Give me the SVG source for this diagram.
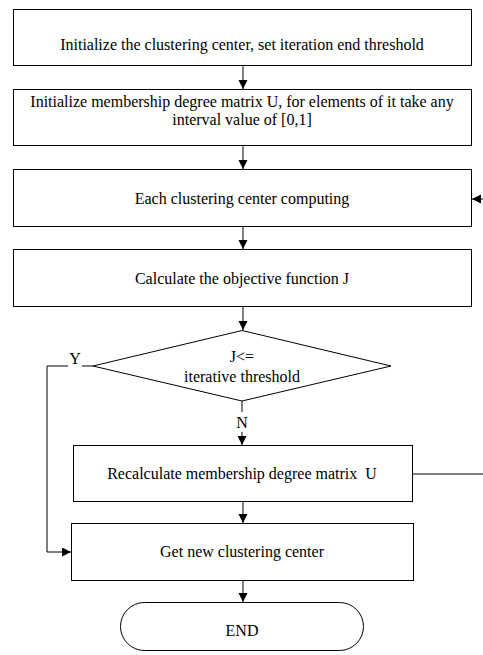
<svg xmlns="http://www.w3.org/2000/svg" width="483" height="655" viewBox="0 0 483 655">
<style>
.box{fill:#fff;stroke:#000;stroke-width:1}
.ln{fill:none;stroke:#000;stroke-width:1}
text{font-family:"Liberation Serif","Times New Roman",serif;font-size:16px;fill:#000;text-anchor:middle}
</style>
<defs>
<marker id="ah" markerWidth="10" markerHeight="10" refX="9" refY="4.5" orient="auto" markerUnits="userSpaceOnUse">
<path d="M0,0 L9,4.5 L0,9 Z" fill="#000"/>
</marker>
</defs>
<rect width="483" height="655" fill="#fff"/>
<g id="connectors">
<line class="ln" x1="243" y1="66" x2="243" y2="89" marker-end="url(#ah)"/>
<line class="ln" x1="243" y1="146" x2="243" y2="169" marker-end="url(#ah)"/>
<line class="ln" x1="243" y1="227" x2="243" y2="249" marker-end="url(#ah)"/>
<line class="ln" x1="243" y1="307" x2="243" y2="330" marker-end="url(#ah)"/>
<line class="ln" x1="242" y1="401" x2="242" y2="412"/>
<line class="ln" x1="242" y1="432" x2="242" y2="445" marker-end="url(#ah)"/>
<polyline class="ln" points="93,366 82,366"/>
<polyline class="ln" points="68,366 47,366 47,552 71,552" marker-end="url(#ah)"/>
<line class="ln" x1="243" y1="502" x2="243" y2="523" marker-end="url(#ah)"/>
<line class="ln" x1="243" y1="581" x2="243" y2="602" marker-end="url(#ah)"/>
<line class="ln" x1="413" y1="474" x2="483" y2="474"/>
<line class="ln" x1="483" y1="199" x2="472" y2="199" marker-end="url(#ah)"/>
<text x="75" y="364">Y</text>
<text x="242" y="428">N</text>
</g>
<g id="n1">
<rect class="box" x="13.5" y="9.5" width="458" height="56"/>
<text x="242" y="50">Initialize the clustering center, set iteration end threshold</text>
</g>
<g id="n2">
<rect class="box" x="13.5" y="89.5" width="458" height="56"/>
<text x="242" y="107">Initialize membership degree matrix U, for elements of it take any</text>
<text x="242" y="125">interval value of [0,1]</text>
</g>
<g id="n3">
<rect class="box" x="13.5" y="169.5" width="458" height="57"/>
<text x="242" y="204">Each clustering center computing</text>
</g>
<g id="n4">
<rect class="box" x="13.5" y="249.5" width="458" height="57"/>
<text x="242" y="284">Calculate the objective function J</text>
</g>
<g id="n5">
<polygon class="box" points="242,330.5 391,366 242,401 93,366"/>
<text x="242" y="362">J&lt;=</text>
<text x="242" y="382">iterative threshold</text>
</g>
<g id="n6">
<rect class="box" x="73.5" y="445.5" width="339" height="56"/>
<text x="242" y="479" style="white-space:pre">Recalculate membership degree matrix  U</text>
</g>
<g id="n7">
<rect class="box" x="71.5" y="523.5" width="342" height="57"/>
<text x="242" y="557">Get new clustering center</text>
</g>
<g id="n8">
<rect class="box" x="120.5" y="602.5" width="243" height="48" rx="24" ry="24"/>
<text x="242" y="636">END</text>
</g>
</svg>
